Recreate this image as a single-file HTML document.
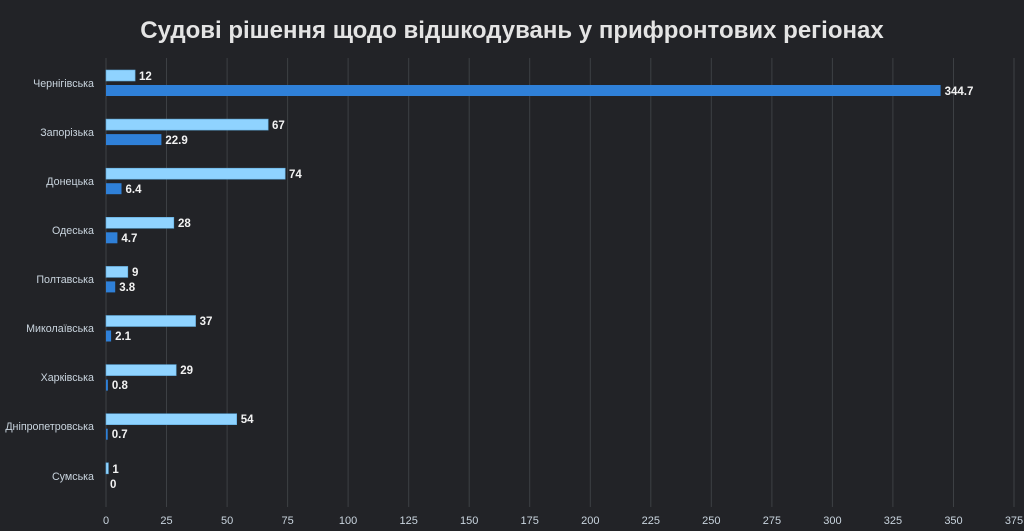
<!DOCTYPE html>
<html><head><meta charset="utf-8"><style>
body{margin:0;background:#222327;}
svg{display:block;font-family:"Liberation Sans",sans-serif;}
</style></head><body>
<svg width="1024" height="531" viewBox="0 0 1024 531">
<rect width="1024" height="531" fill="#222327"/>
<text x="512" y="38" text-anchor="middle" font-size="24" font-weight="bold" fill="#e4e4e4">Судові рішення щодо відшкодувань у прифронтових регіонах</text>
<g stroke="#3d4044" stroke-width="1">
<line x1="106" y1="58" x2="106" y2="507"/><line x1="166.5" y1="58" x2="166.5" y2="507"/><line x1="227.1" y1="58" x2="227.1" y2="507"/><line x1="287.6" y1="58" x2="287.6" y2="507"/><line x1="348.1" y1="58" x2="348.1" y2="507"/><line x1="408.7" y1="58" x2="408.7" y2="507"/><line x1="469.2" y1="58" x2="469.2" y2="507"/><line x1="529.7" y1="58" x2="529.7" y2="507"/><line x1="590.3" y1="58" x2="590.3" y2="507"/><line x1="650.8" y1="58" x2="650.8" y2="507"/><line x1="711.3" y1="58" x2="711.3" y2="507"/><line x1="771.9" y1="58" x2="771.9" y2="507"/><line x1="832.4" y1="58" x2="832.4" y2="507"/><line x1="892.9" y1="58" x2="892.9" y2="507"/><line x1="953.5" y1="58" x2="953.5" y2="507"/><line x1="1014" y1="58" x2="1014" y2="507"/>
</g>
<g font-size="11" fill="#c9d4de" text-anchor="middle">
<text x="106" y="524">0</text><text x="166.5" y="524">25</text><text x="227.1" y="524">50</text><text x="287.6" y="524">75</text><text x="348.1" y="524">100</text><text x="408.7" y="524">125</text><text x="469.2" y="524">150</text><text x="529.7" y="524">175</text><text x="590.3" y="524">200</text><text x="650.8" y="524">225</text><text x="711.3" y="524">250</text><text x="771.9" y="524">275</text><text x="832.4" y="524">300</text><text x="892.9" y="524">325</text><text x="953.5" y="524">350</text><text x="1014" y="524">375</text>
</g>
<g font-size="10.7" fill="#c9d4de" text-anchor="end">
<text x="94" y="87">Чернігівська</text><text x="94" y="136">Запорізька</text><text x="94" y="185">Донецька</text><text x="94" y="234">Одеська</text><text x="94" y="283">Полтавська</text><text x="94" y="332">Миколаївська</text><text x="94" y="381">Харківська</text><text x="94" y="430">Дніпропетровська</text><text x="94" y="480">Сумська</text>
</g>
<g fill="#8fd3ff" stroke="#5fa8d8" stroke-width="0.6">
<rect x="106" y="70" width="29.1" height="11"/><rect x="106" y="119.1" width="162.2" height="11"/><rect x="106" y="168.2" width="179.2" height="11"/><rect x="106" y="217.3" width="67.8" height="11"/><rect x="106" y="266.4" width="21.8" height="11"/><rect x="106" y="315.5" width="89.6" height="11"/><rect x="106" y="364.6" width="70.2" height="11"/><rect x="106" y="413.7" width="130.7" height="11"/><rect x="106" y="462.8" width="2.4" height="11"/>
</g>
<g fill="#2f80d8">
<rect x="106" y="85" width="834.6" height="11"/><rect x="106" y="134.1" width="55.4" height="11"/><rect x="106" y="183.2" width="15.5" height="11"/><rect x="106" y="232.3" width="11.4" height="11"/><rect x="106" y="281.4" width="9.2" height="11"/><rect x="106" y="330.5" width="5.1" height="11"/><rect x="106" y="379.6" width="1.9" height="11"/><rect x="106" y="428.7" width="1.7" height="11"/>
</g>
<g font-size="11.5" font-weight="bold" fill="#f2f2f2">
<text x="139" y="80">12</text><text x="944.6" y="95">344.7</text>
<text x="272" y="129">67</text><text x="165.4" y="144">22.9</text>
<text x="289" y="178">74</text><text x="125.5" y="193">6.4</text>
<text x="178" y="227">28</text><text x="121.4" y="242">4.7</text>
<text x="132" y="276">9</text><text x="119.2" y="291">3.8</text>
<text x="199.6" y="325">37</text><text x="115.1" y="340">2.1</text>
<text x="180.2" y="374">29</text><text x="111.9" y="389">0.8</text>
<text x="240.7" y="423">54</text><text x="111.7" y="438">0.7</text>
<text x="112.4" y="473">1</text><text x="110" y="488">0</text>
</g>
</svg>
</body></html>
